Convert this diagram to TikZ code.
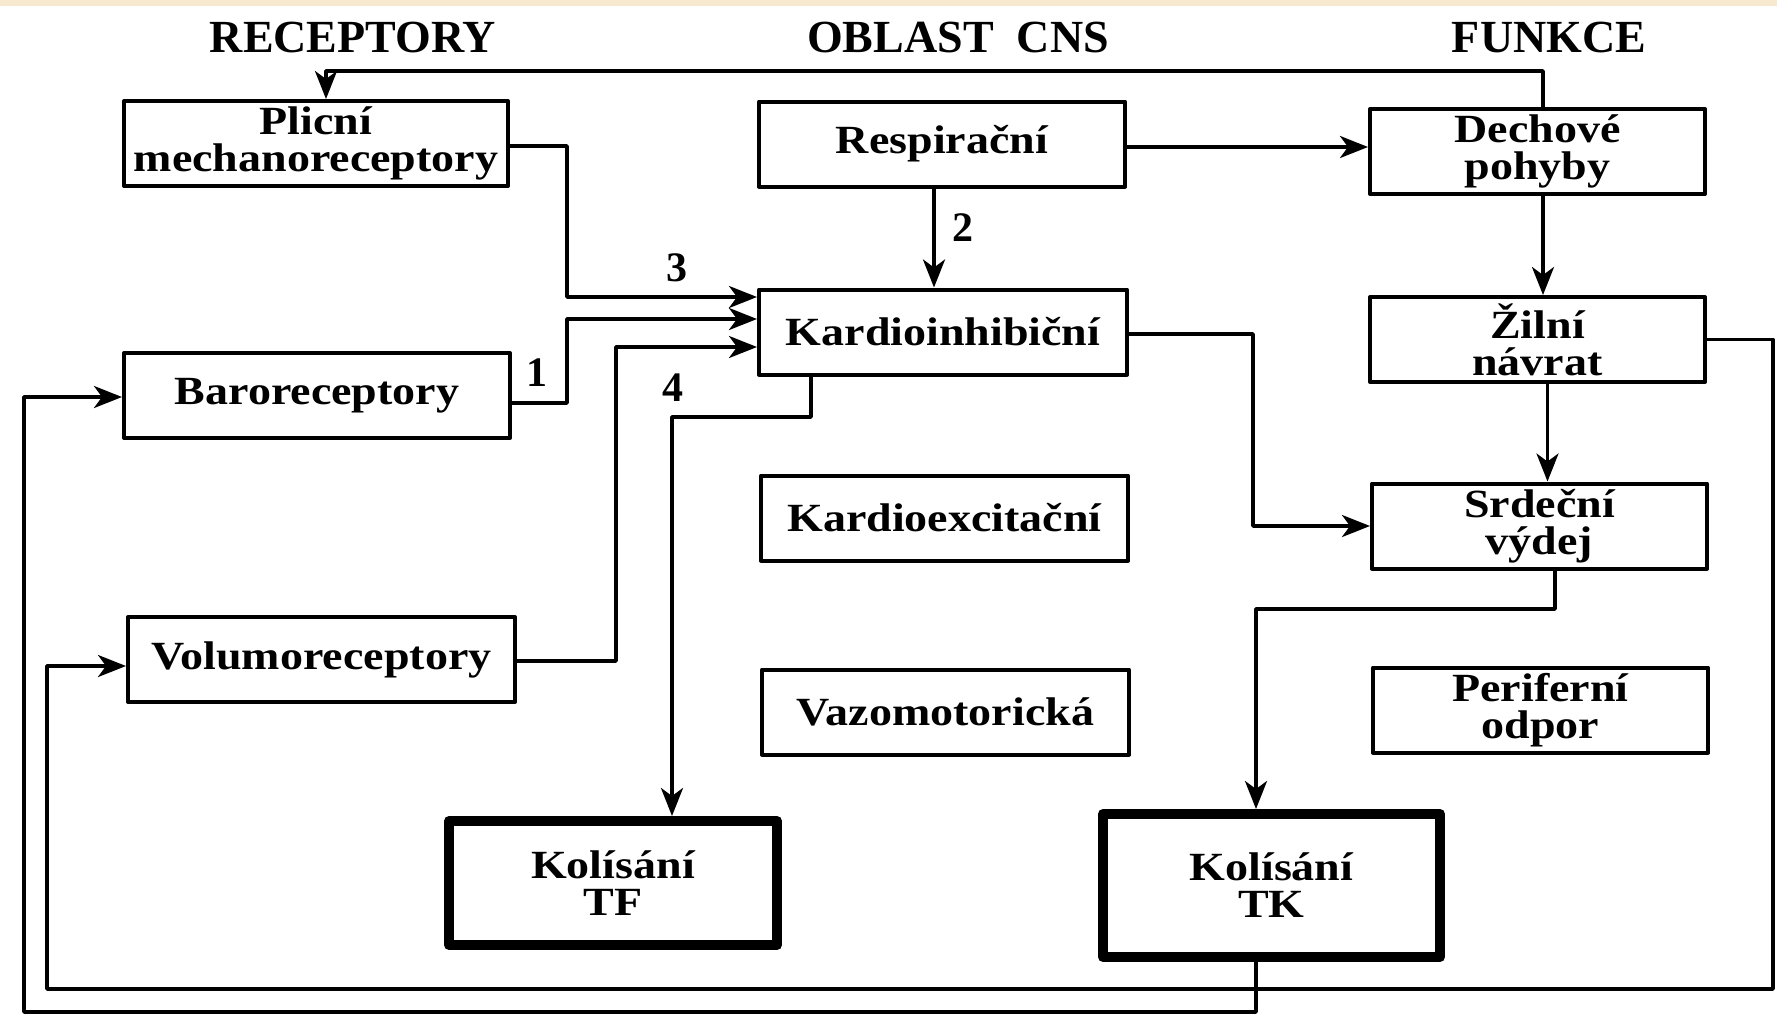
\documentclass[tikz,border=0pt]{standalone}
\usepackage{fontspec}
\setmainfont{Liberation Serif}
\newfontfamily\blokfont{Liberation Serif}[FakeStretch=1.15]
\usetikzlibrary{positioning, arrows.meta}
\tikzset{>={Stealth[length=14pt,width=11pt,inset=4pt]}}
\definecolor{krem}{RGB}{247,233,208}

\begin{document}
\begin{tikzpicture}[x=0.5pt, y=-0.5pt,
                    line cap=round, line join=round,
                    blok/.style={draw, line width=2pt, inner sep=0pt, align=center,
                                 minimum width=#1, minimum height=42.5pt,
                                 font=\blokfont\bfseries\fontsize{20}{18.5}\selectfont},
                    tlusty/.style={blok=#1, line width=5pt},
                    hlava/.style={anchor=base, font=\bfseries\fontsize{23}{28}\selectfont},
                    cislo/.style={font=\bfseries\fontsize{21}{25}\selectfont},
                    spoj/.style={->, line width=1.75pt}]
  \useasboundingbox (0,0) rectangle (1777,1024);
  \fill[white] (0,0) rectangle (1777,1024);
  \fill[krem] (0,0) rectangle (1777,6);

  % column headers
  \node[hlava] (hrec) at (353,52) {RECEPTORY};
  \node[hlava] (hcns) at (958,52) {OBLAST\hspace{0.5em}CNS};
  \node[hlava] (hfun) at (1549,52) {FUNKCE};

  % receptors
  \node[blok=192pt]   (plicni) at (316,143.5) {Plicní\\mechanoreceptory};
  \node[blok=193pt]   (baro)   at (317,395.5) {Baroreceptory};
  \node[blok=193.5pt] (volumo) at (321.5,659.5) {Volumoreceptory};

  % CNS
  \node[blok=183pt]   (resp)   at (942,144) {Respirační};
  \node[blok=184pt]   (kardio) at (943,332) {Kardioinhibiční};
  \node[blok=183.5pt] (kex)    at (944.5,518) {Kardioexcitační};
  \node[blok=183.5pt] (vazo)   at (945.5,712) {Vazomotorická};

  % functions
  \node[blok=167.5pt] (dech)   at (1537.5,151.5) {Dechové\\pohyby};
  \node[blok=167.5pt] (zilni)  at (1537.5,339.5) {Žilní\\návrat};
  \node[blok=167.5pt] (srdce)  at (1539.5,526) {Srdeční\\výdej};
  \node[blok=167.5pt] (perif)  at (1540.5,710) {Periferní\\odpor};

  % oscillations
  \node[tlusty=164pt, minimum height=62pt]     (tf) at (613,883) {Kolísání\\TF};
  \node[tlusty=168.5pt, minimum height=71.5pt] (tk) at (1271.5,885.5) {Kolísání\\TK};

  % inputs to the cardioinhibitory centre
  \draw[spoj] ([yshift=-1.25pt]plicni.east) -| (567,297) -- ([yshift=17.5pt]kardio.west);
  \draw[spoj] ([yshift=-3.75pt]baro.east) -| (567,319) -- ([yshift=6.5pt]kardio.west);
  \draw[spoj] ([yshift=-0.75pt]volumo.east) -| (616,347) -- ([yshift=-7.5pt]kardio.west);
  \draw[spoj] ([xshift=-4pt]resp.south) -- ([xshift=-4pt]resp.south |- kardio.north);
  \draw[spoj] ([xshift=-66pt]kardio.south) |- (672,417) -- ([xshift=29.5pt]tf.north);

  \node[cislo] (n1) at (537,373) {1};
  \node[cislo] (n2) at (963,228) {2};
  \node[cislo] (n3) at (677,268) {3};
  \node[cislo] (n4) at (673,388) {4};

  % right column
  \draw[spoj] ([yshift=-1.5pt]resp.east) -- ([yshift=-1.5pt]resp.east -| dech.west);
  \draw[spoj] ([xshift=2.75pt]dech.south) -- ([xshift=2.75pt]dech.south |- zilni.north);
  \draw[spoj] ([xshift=5pt]zilni.south) -- ([xshift=5pt]zilni.south |- srdce.north);
  \draw[spoj] ([yshift=-1pt]kardio.east) -| (1253,526) -- (srdce.west);
  \draw[spoj] ([xshift=7.75pt]srdce.south) |- (1256,609) -- ([xshift=-7.75pt]tk.north);

  % feedback loops
  \draw[spoj] ([xshift=2.75pt]dech.north) |- (326,71) -- ([xshift=5pt]plicni.north);
  \draw[spoj] (zilni.east) -| (1773,989) -- (47,989) |- ([yshift=-3.25pt]volumo.west);
  \draw[spoj] ([xshift=-7.75pt]tk.south) |- (24,1012) |- ([yshift=-0.75pt]baro.west);
\end{tikzpicture}
\end{document}
